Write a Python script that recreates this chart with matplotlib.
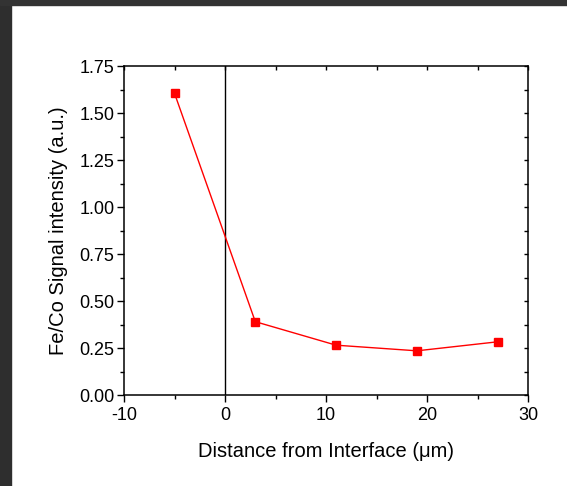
import matplotlib
matplotlib.use('Agg')
import matplotlib.pyplot as plt
from matplotlib.patches import Rectangle
from matplotlib.ticker import MultipleLocator

distance = [-5, 3, 11, 19, 27]
signal = [1.605, 0.39, 0.265, 0.235, 0.283]

plt.rcParams['font.family'] = ['Liberation Sans', 'DejaVu Sans']
plt.rcParams['axes.unicode_minus'] = False

fig = plt.figure(figsize=(5.67, 4.86), dpi=100)
# dark frame on the left and top edges
fig.patches.append(Rectangle((0, 0), 11 / 567, 1, transform=fig.transFigure,
                             color='#2e2e2e', zorder=-1))
fig.patches.append(Rectangle((0, 1 - 5 / 486), 1, 5 / 486, transform=fig.transFigure,
                             color='#333333', zorder=-1))

ax = fig.add_axes([124 / 567, 1 - 395 / 486, 404 / 567, 329 / 486])
ax.axvline(0, color='black', linewidth=1)
ax.plot(distance, signal, color='red', linewidth=1, marker='s', markersize=5.5)

ax.set_xlim(-10, 30)
ax.set_ylim(0, 1.75)
ax.xaxis.set_major_locator(MultipleLocator(10))
ax.xaxis.set_minor_locator(MultipleLocator(5))
ax.yaxis.set_major_locator(MultipleLocator(0.25))
ax.yaxis.set_minor_locator(MultipleLocator(0.125))
ax.yaxis.set_major_formatter(plt.FormatStrFormatter('%.2f'))

ax.tick_params(which='major', direction='out', length=5, width=1, labelsize=13,
               pad=2)
ax.tick_params(axis='x', which='major', pad=3.5)
ax.tick_params(which='minor', direction='out', length=3, width=1)
# short inward ticks on the top and right spines
ax.tick_params(which='both', top=True, right=True)
for t in ax.xaxis.get_major_ticks() + ax.xaxis.get_minor_ticks():
    t.tick2line.set_marker(3)
    t.tick2line.set_markersize(3)
for t in ax.yaxis.get_major_ticks() + ax.yaxis.get_minor_ticks():
    t.tick2line.set_marker(0)
    t.tick2line.set_markersize(3)
for s in ax.spines.values():
    s.set_linewidth(1.1)

ax.set_xlabel('Distance from Interface (\u03bcm)', fontsize=14.5, labelpad=13)
ax.set_ylabel('Fe/Co Signal intensity (a.u.)', fontsize=14.5, labelpad=8)

fig.savefig('out.png', dpi=100)
